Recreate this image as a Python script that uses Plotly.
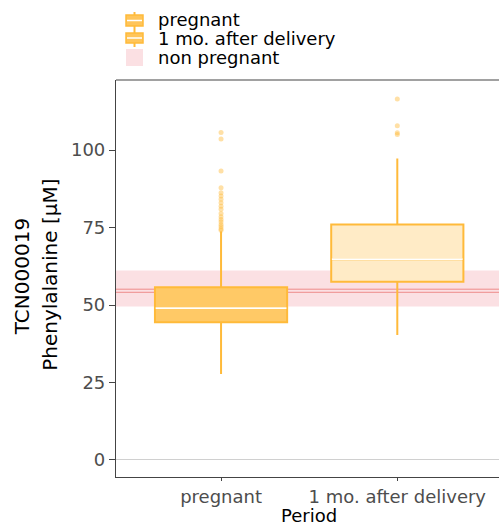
import plotly.graph_objects as go

categories = ["pregnant", "1 mo. after delivery"]
q1 = [44.4, 57.5]
median = [49.0, 64.8]
q3 = [55.7, 76.0]
lower_whisker = [27.7, 40.3]
upper_whisker = [73.8, 97.3]
outliers_pregnant = [105.7, 103.6, 93.2, 87.8, 86.2, 85.2, 84.1, 83.0, 81.9, 80.9,
                     79.5, 78.5, 77.6, 76.9, 76.0, 75.3, 74.6, 74.1]
outliers_after = [116.5, 107.8, 105.6, 105.0]
ref_low, ref_high = 49.5, 61.1
ref_lines = [55.1, 54.1]
y_ticks = [0, 25, 50, 75, 100]
legend_labels = ["pregnant", "1 mo. after delivery", "non pregnant"]

line_col = "#FFBA3A"
fills = ["#FFC966", "#FFEBC6"]
band_col = "rgba(244,160,170,0.33)"
font_fam = "DejaVu Sans"

W, H = 499, 528
L, R, T, B = 116, 0, 80, 51
PW, PH = W - L - R, H - T - B


def px(x):
    return (x - L) / PW


def py(y):
    return (H - B - y) / PH


fig = go.Figure()

# reference band + lines
fig.add_shape(type="rect", xref="paper", x0=0, x1=1, yref="y", y0=ref_low, y1=ref_high,
              fillcolor=band_col, line_width=0, layer="below")
for v in ref_lines:
    fig.add_shape(type="line", xref="paper", x0=0, x1=1, yref="y", y0=v, y1=v,
                  line=dict(color="#EE8A8A", width=1), layer="below")

for i in range(2):
    fig.add_trace(go.Box(
        x=[i], q1=[q1[i]], median=[median[i]], q3=[q3[i]],
        lowerfence=[lower_whisker[i]], upperfence=[upper_whisker[i]],
        width=0.75, whiskerwidth=0, fillcolor=fills[i], line=dict(color=line_col, width=2),
        name=categories[i], showlegend=False, boxpoints=False, hoverinfo="skip"))

# median lines in white
for i in range(2):
    fig.add_trace(go.Scatter(x=[i - 0.371, i + 0.371], y=[median[i], median[i]], mode="lines",
                             line=dict(color="white", width=1.8), showlegend=False, hoverinfo="skip"))

# outliers
for i, pts in enumerate([outliers_pregnant, outliers_after]):
    fig.add_trace(go.Scatter(x=[i] * len(pts), y=pts, mode="markers",
                             marker=dict(color=line_col, size=5, opacity=0.45),
                             showlegend=False, hoverinfo="skip"))

# top border
fig.add_shape(type="line", xref="paper", yref="paper", x0=0, x1=1, y0=1, y1=1,
              line=dict(color="#444444", width=1.2))

# manual legend (keys drawn like ggplot boxplot keys)
key_x0, key_x1 = 126, 143
key_xc = (key_x0 + key_x1) / 2
legend_rows = [20, 38.5, 57.5]
box_keys = [(12, 15, 26, 20.5, 30), (30, 33, 43, 38, 47)]
for (wt, bt, bb, md, wb) in box_keys:
    fig.add_shape(type="line", xref="paper", yref="paper", x0=px(key_xc), x1=px(key_xc),
                  y0=py(wt), y1=py(wb), line=dict(color=line_col, width=2))
    fig.add_shape(type="rect", xref="paper", yref="paper", x0=px(key_x0), x1=px(key_x1),
                  y0=py(bt), y1=py(bb), fillcolor="#FFC55A", line=dict(color=line_col, width=1.5))
    fig.add_shape(type="line", xref="paper", yref="paper", x0=px(key_x0 + 1), x1=px(key_x1 - 1),
                  y0=py(md), y1=py(md), line=dict(color="white", width=1.5))
fig.add_shape(type="rect", xref="paper", yref="paper", x0=px(key_x0), x1=px(key_x1),
              y0=py(49), y1=py(66), fillcolor=band_col, line_width=0)

annotations = []
for lab, yy in zip(legend_labels, legend_rows):
    annotations.append(dict(text=lab, xref="paper", yref="paper", x=px(156), y=py(yy),
                            xanchor="left", yanchor="middle", showarrow=False,
                            font=dict(size=18, color="black")))
annotations += [
    dict(text="TCN000019", xref="paper", yref="paper", x=px(21.7), y=0.505,
         textangle=-90, showarrow=False, font=dict(size=20, color="black"),
         xanchor="center", yanchor="middle"),
    dict(text="Phenylalanine [\u03bcM]", xref="paper", yref="paper", x=px(49.3), y=0.51,
         textangle=-90, showarrow=False, font=dict(size=20, color="black"),
         xanchor="center", yanchor="middle"),
    dict(text="Period", xref="paper", yref="paper", x=px(309), y=py(H),
         showarrow=False, font=dict(size=18, color="black"),
         xanchor="center", yanchor="bottom"),
]

fig.update_layout(
    width=W, height=H,
    margin=dict(l=L, r=R, t=T, b=B),
    plot_bgcolor="white", paper_bgcolor="white",
    font=dict(family=font_fam, size=18, color="black"),
    showlegend=False,
    xaxis=dict(range=[-0.596, 1.577], tickvals=[0, 1], ticktext=categories,
               showgrid=False, zeroline=False, showline=True, linecolor="#444444", linewidth=1.2,
               ticks="outside", ticklen=3, tickcolor="#444444",
               tickfont=dict(size=18, color="#4D4D4D", family=font_fam)),
    yaxis=dict(range=[-5.5, 122.6], tickvals=y_ticks, showgrid=False,
               zeroline=True, zerolinecolor="#D0D0D0", zerolinewidth=1.2,
               showline=True, linecolor="#444444", linewidth=1.2,
               ticks="outside", ticklen=6, tickcolor="#444444",
               tickfont=dict(size=18, color="#4D4D4D", family=font_fam)),
    annotations=annotations,
)

fig.write_html("out.html")
